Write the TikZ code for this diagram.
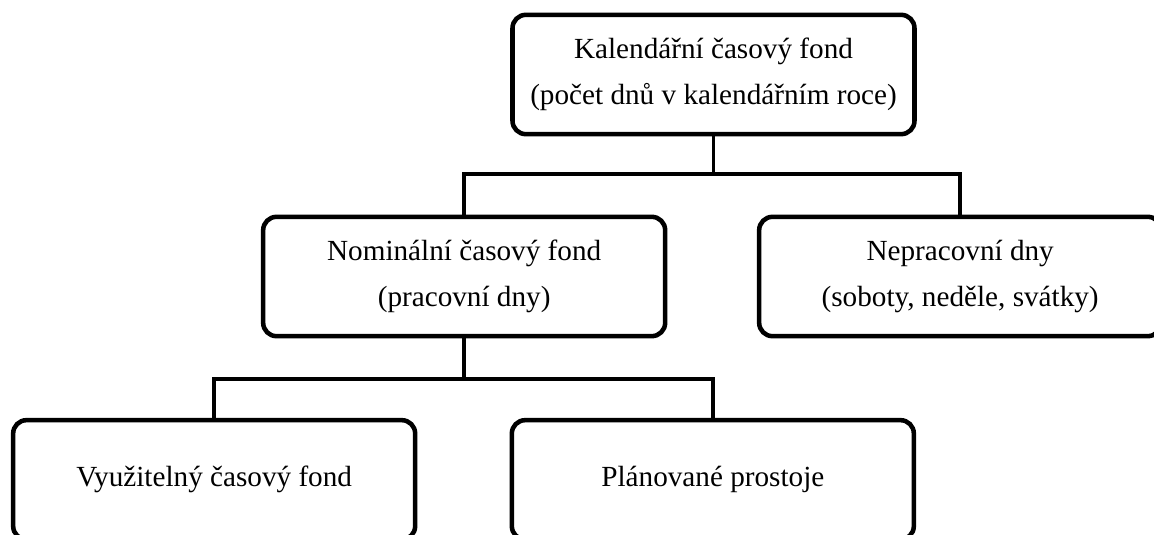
\documentclass[tikz,border=0pt]{standalone}
\usepackage{fontspec}
\setmainfont{Liberation Serif}
\usepackage{tikz}
\usetikzlibrary{positioning, calc}

\begin{document}
\begin{tikzpicture}[
    x=0.75pt, y=-0.75pt,
    block/.style={rectangle, draw, line width=3.4pt, rounded corners=10pt, minimum width=301.5pt, minimum height=89.5pt, outer sep=0pt, align=center, font=\fontsize{21.9}{34.5}\selectfont},
    link/.style={line width=2.9pt}
]
    \clip (0,0) rectangle (1154,535);

    \node (cal) [block] at (713.5,74.5) {Kalendářní časový fond\\(počet dnů v kalendářním roce)};
    \node (nom) [block, below=62pt of cal, xshift=-187pt] {Nominální časový fond\\(pracovní dny)};
    \node (nep) [block, right=70.5pt of nom] {Nepracovní dny\\(soboty, neděle, svátky)};
    \node (vyu) [block, below=63pt of nom, xshift=-187.5pt] {Využitelný časový fond};
    \node (pla) [block, right=72.5pt of vyu] {Plánované prostoje};

    \coordinate (top) at ($(cal.south)+(0,-30pt)$);
    \coordinate (mid) at ($(nom.south)+(0,-32pt)$);

    \draw [link] (cal.south) -- (top);
    \draw [link] (nom.north) |- (top) -| (nep.north);
    \draw [link] (nom.south) -- (mid);
    \draw [link] (vyu.north) |- (mid) -| (pla.north);
\end{tikzpicture}
\end{document}
